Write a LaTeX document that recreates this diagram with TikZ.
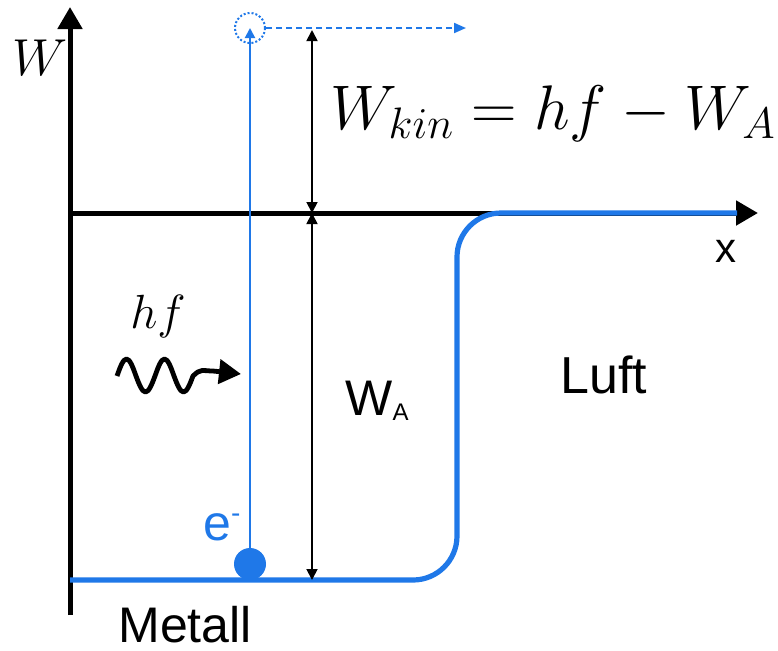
\RequirePackage{fix-cm}
\documentclass[tikz,border=0pt]{standalone}
\usepackage{fontspec}
\newfontfamily\labelfont{Liberation Sans}
\usetikzlibrary{arrows.meta}
\definecolor{elblue}{HTML}{1F78E8}
\definecolor{ink}{HTML}{000000}
\tikzset{
  axis/.style={line width=2.5pt, draw=ink, -{Triangle[length=11pt,width=12pt]}},
  level/.style={line width=2.6pt, draw=elblue, rounded corners=22pt},
  dim/.style={line width=0.9pt, draw=ink,
              {Triangle[length=5.5pt,width=5.5pt]}-{Triangle[length=5.5pt,width=5.5pt]}},
  lift/.style={line width=1pt, draw=elblue, -{Triangle[length=5pt,width=5pt]}},
  escape/.style={line width=1pt, draw=elblue, dash pattern=on 3pt off 2pt,
                 -{Triangle[length=6pt,width=5pt]}},
  photon/.style={line width=2.4pt, draw=ink, line join=round,
                 -{Triangle[length=11pt,width=12pt]}},
  sans/.style={font=\labelfont\fontsize{25}{30}\selectfont, inner sep=0pt, anchor=base west},
  maths/.style={font=\fontsize{25}{30}\selectfont, inner sep=0pt, anchor=base west},
}
\begin{document}
\begin{tikzpicture}[x=0.5pt, y=-0.5pt]
\useasboundingbox (0,0) rectangle (778,650);

% --- axes -------------------------------------------------------------------
\coordinate (ybot) at (70,615);
\coordinate (ytop) at (70,7);
\coordinate (orig) at (70,213);
\coordinate (xend) at (758,213);
\draw[axis] (ybot) -- (ytop);
\draw[axis] (orig) -- (xend);

% --- potential step: metal / air ---------------------------------------------
\draw[level] (70,580) -- (457,580) -- (457,213) -- (737,213);

% --- electron lifted out -----------------------------------------------------
\node[circle, fill=elblue, minimum size=16pt, inner sep=0pt] (elec) at (250,564) {};
\node[circle, draw=elblue, line width=1pt, dash pattern=on 1pt off 1pt,
      minimum size=15pt, inner sep=0pt] (free) at (250,28) {};
\draw[lift] (elec) -- (free.center);
\coordinate (away) at (466,28);
\draw[escape] (free) -- (away);

% --- energy distances --------------------------------------------------------
\coordinate (dtop) at (312,30);
\coordinate (dmid) at (312,213);
\coordinate (dbot) at (312,580);
\draw[dim] (dtop) -- (dmid);
\draw[dim] (dmid) -- (dbot);

% --- incoming photon ---------------------------------------------------------
\coordinate (wstart) at (117,376);
\coordinate (wend) at (241,374);
\draw[photon] (wstart) sin ++(9.5,-17) cos ++(9.5,17) sin ++(9.5,16) cos ++(9.5,-16)
  sin ++(9.5,-17) cos ++(9.5,17) sin ++(9.5,16) cos ++(9.5,-16)
  .. controls ++(8,-8) and ++(-10,0) .. ++(20,-5) -- (wend);

% --- labels ------------------------------------------------------------------
\node[maths, font=\fontsize{26}{30}\selectfont] (wlab) at (12,75) {$W$};
\node[maths, font=\fontsize{31.5}{36}\selectfont] (wkin) at (330,129) {$W_{kin} = hf - W_A$};
\node[maths, font=\fontsize{24}{30}\selectfont] (hf) at (130,328) {$hf$};
\node[sans] (wa) at (345,415) {W\raisebox{-2.5pt}{\fontsize{12}{12}\selectfont A}};
\node[sans, font=\labelfont\fontsize{26}{30}\selectfont] (luft) at (560,393) {Luft};
\node[sans] (metall) at (118,642) {Metall};
\node[sans, font=\labelfont\fontsize{21}{25}\selectfont] (xlab) at (715,262) {x};
\node[sans, text=elblue] (elab) at (203,540) {e\raisebox{9pt}{\fontsize{14}{14}\selectfont -}};

\end{tikzpicture}
\end{document}
